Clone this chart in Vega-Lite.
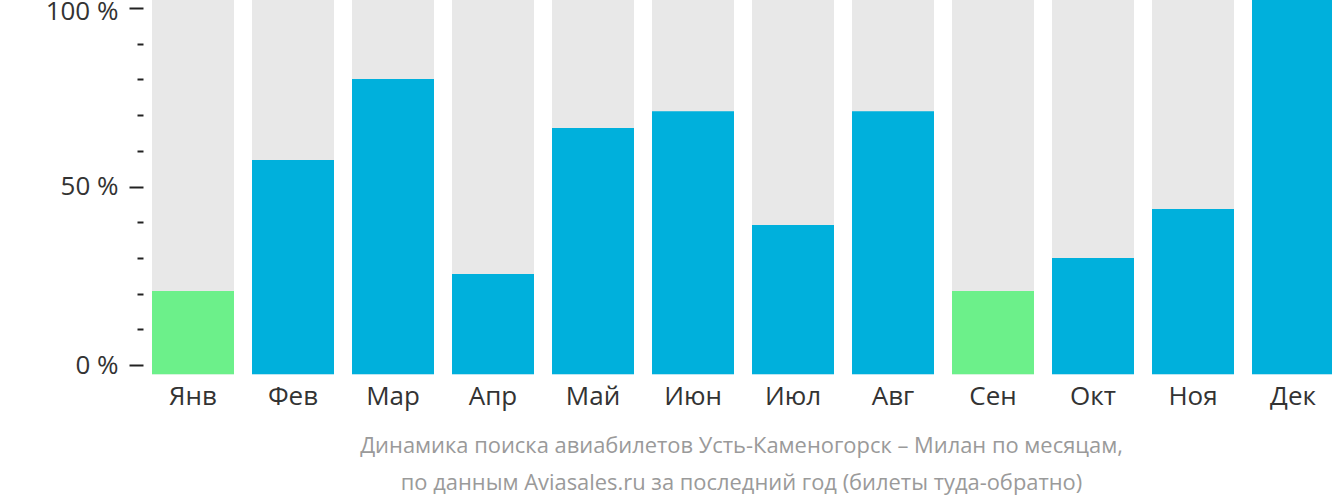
{
  "$schema": "https://vega.github.io/schema/vega-lite/v6.json",
  "autosize": {"type": "none"},
  "padding": {"left": 143, "top": 0, "right": 0, "bottom": 128},
  "width": 1189,
  "height": 374,
  "background": "white",
  "config": {"view": {"stroke": null}, "font": "Open Sans"},
  "data": {"values": [
    {"month": "Янв", "value": 20.7},
    {"month": "Фев", "value": 57.4},
    {"month": "Мар", "value": 80.1},
    {"month": "Апр", "value": 25.5},
    {"month": "Май", "value": 66.4},
    {"month": "Июн", "value": 71.1},
    {"month": "Июл", "value": 39.2},
    {"month": "Авг", "value": 71.1},
    {"month": "Сен", "value": 20.7},
    {"month": "Окт", "value": 30.0},
    {"month": "Ноя", "value": 43.7},
    {"month": "Дек", "value": 102.3}
  ]},
  "encoding": {
    "x": {
      "field": "month", "type": "nominal", "sort": null,
      "scale": {"range": [0, 1200], "paddingInner": 0.18, "paddingOuter": 0.09},
      "axis": {
        "domain": false, "ticks": false, "labelAngle": 0,
        "labelFont": "Open Sans",
        "labelFontSize": 26, "labelColor": "#333333", "labelPadding": 9,
        "title": ["Динамика поиска авиабилетов Усть-Каменогорск – Милан по месяцам,", "по данным Aviasales.ru за последний год (билеты туда-обратно)"],
        "titleFont": "Open Sans",
        "titleFontSize": 21.9, "titleFontWeight": "normal", "titleColor": "#9a9a9a",
        "titleLineHeight": 37, "titlePadding": 26, "titleX": 598
      }
    },
    "y": {
      "type": "quantitative",
      "scale": {"domain": [-2.52, 102.24], "nice": false, "zero": false},
      "axis": {
        "values": [0, 10, 20, 30, 40, 50, 60, 70, 80, 90, 100],
        "tickCount": 11,
        "labelExpr": "datum.value % 50 === 0 ? datum.value + ' %' : ''",
        "labelOverlap": false, "labelFlush": false,
        "labelOffset": {"condition": {"test": "datum.value === 100", "value": 4}, "value": 0},
        "domain": false, "grid": false,
        "tickColor": "#222222", "tickWidth": 2,
        "tickSize": {"condition": {"test": "datum.value % 50 === 0", "value": 14}, "value": 6},
        "labelFont": "Open Sans",
        "labelFontSize": 26, "labelColor": "#333333", "labelPadding": 11,
        "title": null
      }
    }
  },
  "layer": [
    {
      "mark": {"type": "bar", "color": "#e8e8e8"},
      "encoding": {
        "y": {"datum": 102.3},
        "y2": {"datum": -2.6}
      }
    },
    {
      "mark": {"type": "bar"},
      "encoding": {
        "y": {"field": "value"},
        "y2": {"datum": -2.6},
        "color": {
          "condition": {"test": "datum.value < 21", "value": "#6cf08a"},
          "value": "#00b0dc"
        }
      }
    }
  ]
}
